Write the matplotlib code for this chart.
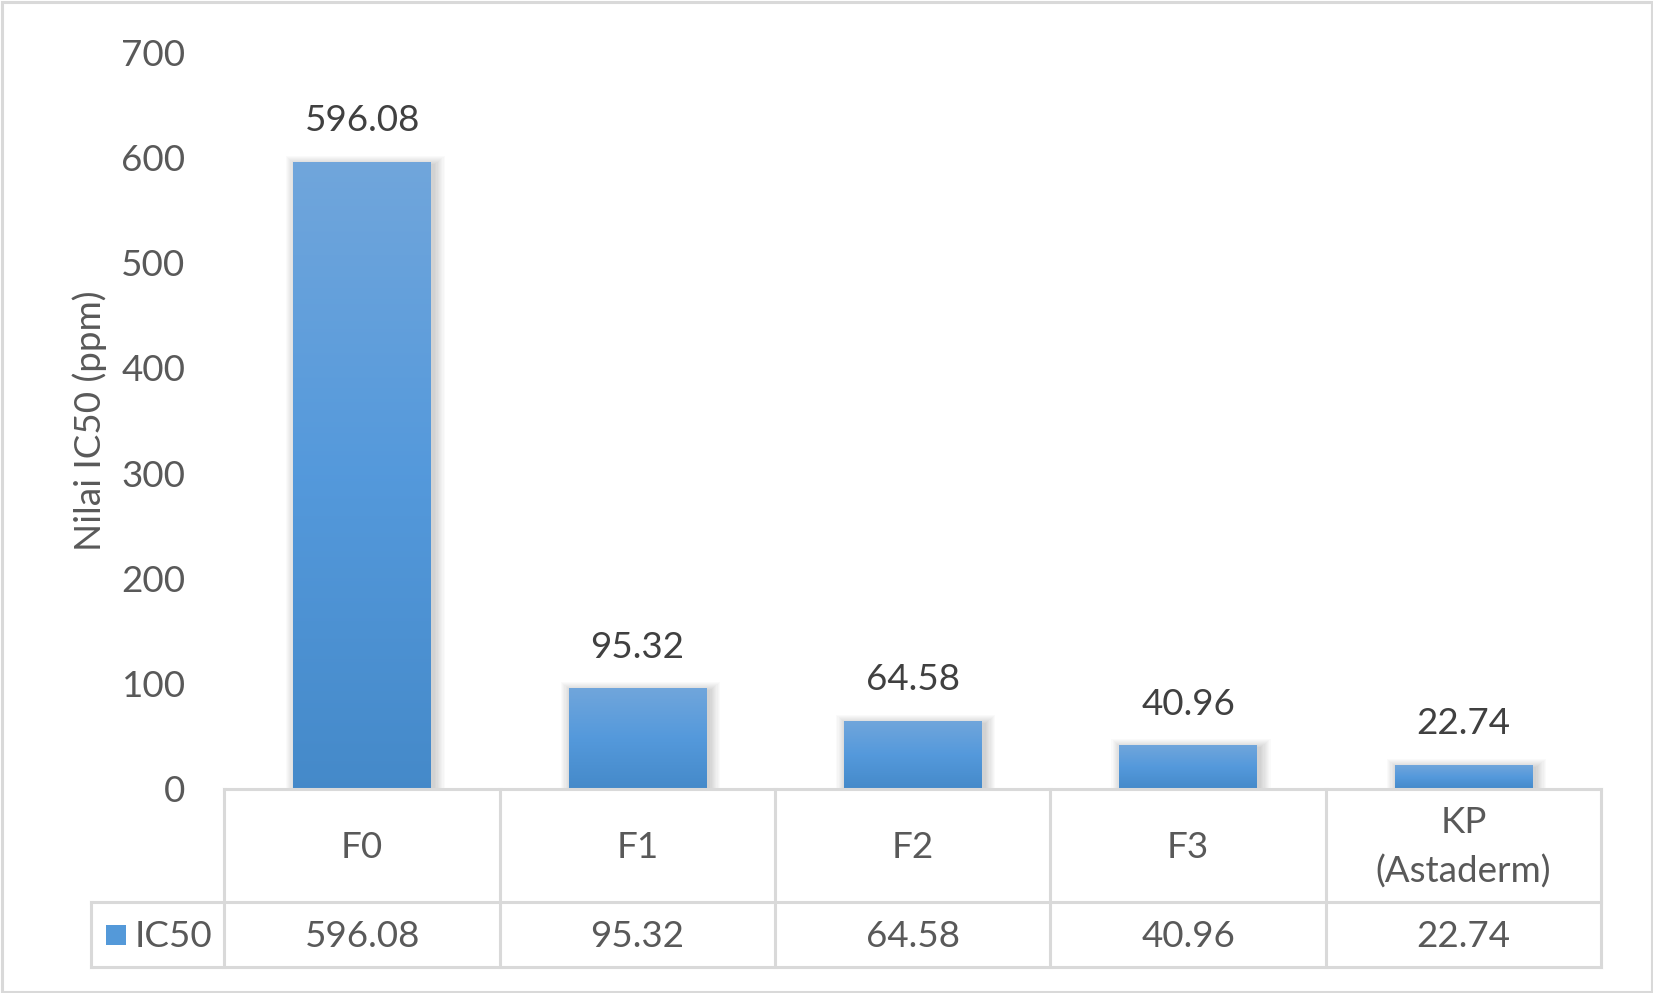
import numpy as np
from matplotlib import pyplot as plt
from matplotlib.patches import Rectangle
from matplotlib.transforms import blended_transform_factory
from matplotlib.colors import LinearSegmentedColormap

# data
kategori = ["F0", "F1", "F2", "F3", "KP\n(Astaderm)"]
nilai = [596.08, 95.32, 64.58, 40.96, 22.74]
label_nilai = ["596.08", "95.32", "64.58", "40.96", "22.74"]
seri = "IC50"
y_ticks = [0, 100, 200, 300, 400, 500, 600, 700]

plt.rcParams['font.family'] = ['Lato', 'DejaVu Sans']
teks = '#595959'
garis = '#d9d9d9'
fs = 26.5

W, H = 1653, 993
fig = plt.figure(figsize=(W / 100, H / 100), dpi=100)
# plot area in pixels
x0, x1 = 224.5, 1601
yb, yt = 788.5, 52.5
ax = fig.add_axes([x0 / W, 1 - yb / H, (x1 - x0) / W, (yb - yt) / H])
ax.set_xlim(-0.5, len(kategori) - 0.5)
ax.set_ylim(0, 700)

grad = LinearSegmentedColormap.from_list(
    'g', [(0.27, 0.54, 0.79), (0.33, 0.60, 0.86), (0.44, 0.65, 0.86)])

px_x = (x1 - x0) / len(kategori)   # pixels per category
px_y = (yb - yt) / 700             # pixels per unit

lebar = 0.5
bars = ax.bar(range(len(kategori)), nilai, width=lebar, color='none', zorder=3)
g = np.linspace(0, 1, 256).reshape(-1, 1)
for i, (b, v) in enumerate(zip(bars, nilai)):
    bx = b.get_x()
    # soft shadow
    for k in range(1, 10):
        dx = k * 1.2 / px_x
        dy = k * 1.0 / px_y
        ax.add_patch(Rectangle((bx - dx + 3 / px_x, 0), lebar + 2 * dx, v + dy - 3 / px_y,
                               facecolor='black', alpha=0.018, edgecolor='none',
                               zorder=2, clip_on=False))
    im = ax.imshow(g, cmap=grad, origin='lower', aspect='auto',
                   extent=[bx, bx + lebar, 0, v], zorder=3, interpolation='bilinear')
    im.set_clip_path(b)
    ax.text(i, v + 41 / px_y, label_nilai[i], ha='center', va='center',
            fontsize=fs, color='#404040', zorder=4)

ax.set_xlim(-0.5, len(kategori) - 0.5)
ax.set_ylim(0, 700)
ax.set_yticks(y_ticks)
ax.set_yticklabels([str(t) for t in y_ticks], fontsize=fs, color=teks)
ax.tick_params(axis='y', length=0, pad=28)
ax.set_xticks([])
for s in ax.spines.values():
    s.set_visible(False)
ax.set_ylabel("Nilai IC50 (ppm)", fontsize=fs, color=teks, labelpad=10)

# data table below the plot
tr = blended_transform_factory(ax.transData, ax.transAxes)
hpx = yb - yt
r1 = -(902.4 - yb) / hpx
r2 = -(966.7 - yb) / hpx
kiri = -0.5 - (x0 - 90.7) / px_x
n = len(kategori)
lw = 2.2
kw = dict(color=garis, lw=lw, transform=tr, clip_on=False, zorder=5,
          solid_capstyle='projecting')
ax.plot([-0.5, n - 0.5], [0, 0], **kw)
ax.plot([kiri, n - 0.5], [r1, r1], **kw)
ax.plot([kiri, n - 0.5], [r2, r2], **kw)
ax.plot([kiri, kiri], [r1, r2], **kw)
for j in range(n + 1):
    ax.plot([j - 0.5, j - 0.5], [0, r2], **kw)

geser = 2 / hpx
for i in range(n):
    ax.text(i, r1 / 2 - geser, kategori[i], transform=tr, ha='center', va='center',
            fontsize=fs, color=teks, linespacing=1.55)
    ax.text(i, (r1 + r2) / 2 - geser, label_nilai[i], transform=tr, ha='center',
            va='center', fontsize=fs, color=teks)

# legend key in table
kx = -0.5 - (x0 - 106) / px_x
kw2 = 20 / px_x
kh = 20 / hpx
ky = (r1 + r2) / 2 - kh / 2
key = Rectangle((kx, ky), kw2, kh, transform=tr, clip_on=False,
                facecolor=(0.33, 0.60, 0.85), edgecolor='none', zorder=5)
ax.add_patch(key)
ax.text(kx + kw2 + 9 / px_x, (r1 + r2) / 2 - geser, seri, transform=tr, ha='left',
        va='center', fontsize=fs, color=teks)

# chart border
fig.patches.append(Rectangle((1.5 / W, 1.5 / H), 1 - 3 / W, 1 - 3 / H,
                             transform=fig.transFigure, fill=False,
                             edgecolor=garis, lw=2.2))

fig.savefig('out.png', dpi=100)
